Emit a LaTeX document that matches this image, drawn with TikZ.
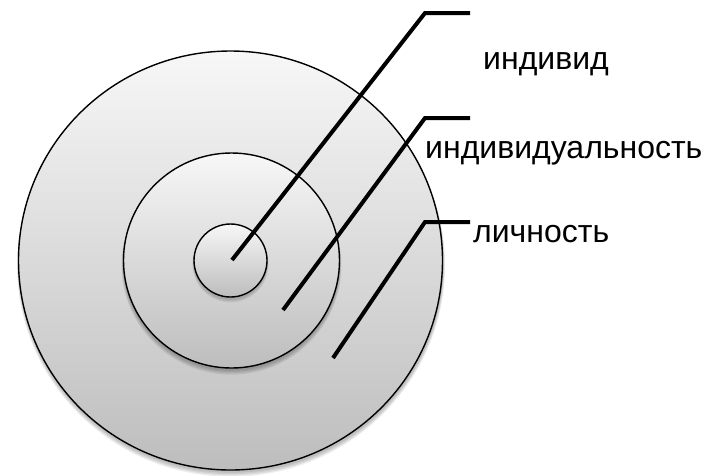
\documentclass[tikz,border=0pt]{standalone}
\usepackage{fontspec}
\setmainfont{Liberation Sans}
\usetikzlibrary{shapes.geometric}
\definecolor{gtop}{HTML}{F7F7F7}
\definecolor{gbot}{HTML}{BDBDBD}
\tikzset{
  ring/.style={ellipse, draw=black, line width=1.4pt, inner sep=0pt,
    top color=gtop, bottom color=gbot},
  shad/.style={ellipse, inner sep=0pt, fill=black, fill opacity=0.07},
  leader/.style={line width=4pt, line join=miter},
  lbl/.style={anchor=base west, inner sep=0pt, font=\fontsize{32}{38}\selectfont}
}
\begin{document}
\begin{tikzpicture}[x=1pt,y=-1pt]
\useasboundingbox (0,0) rectangle (704,475);
% outer
\foreach \d in {1,2,3,4}{
  \node[shad, minimum width=424pt+\d pt, minimum height=419pt+\d pt] at (231,262+\d*0.8) {};
}
\node[ring, minimum width=424pt, minimum height=419pt] (outer) at (230.5,260.5) {};
% middle
\foreach \d in {1,2,3,4}{
  \node[shad, minimum width=216pt+\d pt, minimum height=215pt+\d pt] at (231.5,262+\d*0.8) {};
}
\node[ring, minimum width=216pt, minimum height=215pt] (middle) at (231.5,260.5) {};
% inner
\foreach \d in {1,2,3}{
  \node[shad, minimum width=73pt+\d pt, minimum height=73pt+\d pt] at (230.5,262+\d*0.8) {};
}
\node[ring, minimum width=73pt, minimum height=73pt] (inner) at (230.5,260.5) {};
% leader lines
\coordinate (s1) at (232,260);
\coordinate (e1) at (425,13);
\coordinate (t1) at (470,13);
\coordinate (s2) at (283,310);
\coordinate (e2) at (425,118);
\coordinate (t2) at (470,118);
\coordinate (s3) at (333,358);
\coordinate (e3) at (425,222);
\coordinate (t3) at (470,222);
\draw[leader] (s1) -- (e1) -- (t1);
\draw[leader] (s2) -- (e2) -- (t2);
\draw[leader] (s3) -- (e3) -- (t3);
% labels
\node[lbl] (l1) at (483,69) {индивид};
\node[lbl] (l2) at (425,158) {индивидуальность};
\node[lbl] (l3) at (473,242) {личность};
\end{tikzpicture}
\end{document}
